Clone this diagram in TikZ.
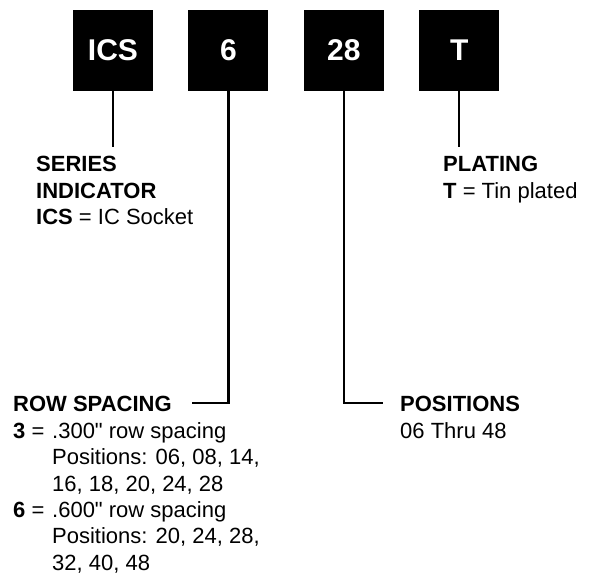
\documentclass[tikz,border=0pt]{standalone}
\usepackage{fontspec}
\setmainfont{Liberation Sans}[Ligatures=TeXOff]
\usepackage{tikz}
\usetikzlibrary{positioning}
\tikzset{
  codebox/.style={fill=black, text=white, minimum width=80pt, minimum height=81pt, inner sep=0pt,
    font=\bfseries\fontsize{30}{36}\selectfont},
  label/.style={anchor=north west, inner sep=0pt, align=left, font=\fontsize{22}{26.4}\selectfont},
  lead/.style={line width=2.4pt, line join=miter}
}
\begin{document}
\begin{tikzpicture}[x=1pt, y=-1pt, node distance=35pt]
    \useasboundingbox (0,0) rectangle (591,576);
    % part number boxes
    \node[codebox] (ics) at (113,50.5) {ICS};
    \node[codebox, right=of ics] (rows) {6};
    \node[codebox, right=of rows] (pos) {28};
    \node[codebox, right=of pos] (plat) {T};
    % texts
    \node[label] (series) at (36,156.3) {\textbf{SERIES}\\ \textbf{INDICATOR}\\ \textbf{ICS} = IC Socket};
    \node[label] (plating) at (443,156.3) {\textbf{PLATING}\\ \textbf{T} = Tin plated};
    \node[label] (rowspc) at (13,396.3) {\textbf{ROW SPACING}\\
      \makebox[39pt][l]{\textbf{3} = }.300" row spacing\\
      \hspace*{39pt}Positions: 06, 08, 14,\\
      \hspace*{39pt}16, 18, 20, 24, 28\\
      \makebox[39pt][l]{\textbf{6} = }.600" row spacing\\
      \hspace*{39pt}Positions: 20, 24, 28,\\
      \hspace*{39pt}32, 40, 48};
    \node[label] (positions) at (400,396.3) {\textbf{POSITIONS}\\ 06 Thru 48};
    \coordinate (rowend) at (192,403);
    \coordinate (posend) at (383,403);
    % leader lines
    \draw[lead, shorten >=9pt] (ics.south) -- (ics.south |- series.north);
    \draw[lead, shorten >=9pt] (plat.south) -- (plat.south |- plating.north);
    \draw[lead] (rows.south) |- (rowend);
    \draw[lead] (pos.south) |- (posend);
\end{tikzpicture}
\end{document}
